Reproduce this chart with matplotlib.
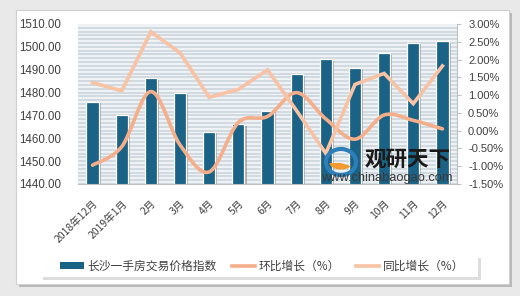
import numpy as np
import matplotlib
matplotlib.use("Agg")
import matplotlib.pyplot as plt
from matplotlib.path import Path
from matplotlib.patches import PathPatch, Rectangle, Patch, Ellipse, Wedge
from matplotlib.lines import Line2D
import matplotlib.patheffects as pe
from matplotlib.ticker import FormatStrFormatter, FuncFormatter

plt.rcParams['font.family'] = ['Noto Sans CJK SC', 'DejaVu Sans']

categories = ['2018年12月', '2019年1月', '2月', '3月', '4月', '5月', '6月',
              '7月', '8月', '9月', '10月', '11月', '12月']
price_index = [1476.0, 1470.1, 1486.4, 1480.0, 1462.9, 1466.3, 1472.1,
               1488.1, 1494.5, 1490.9, 1497.5, 1501.8, 1502.6]
mom_growth = [-0.97, -0.45, 1.10, -0.40, -1.16, 0.23, 0.40,
              1.07, 0.33, -0.24, 0.44, 0.29, 0.05]
yoy_growth = [1.35, 1.12, 2.78, 2.19, 0.94, 1.16, 1.71,
              0.56, -0.64, 1.30, 1.61, 0.76, 1.82]
legend_labels = ['长沙一手房交易价格指数', '环比增长（%）', '同比增长（%）']

BAR_C = '#1B6386'
MOM_C = '#F5AE8A'
YOY_C = '#F8C2A4'

fig = plt.figure(figsize=(5.2, 2.96), dpi=100)
fig.patch.set_facecolor('#E9E9E9')

# outer card with shadow
card = Rectangle((16 / 520, 1 - 284 / 296), (509 - 16) / 520, (284 - 10) / 296,
                 transform=fig.transFigure, facecolor='white', edgecolor='#D0D0D0',
                 lw=0.8, zorder=-2,
                 path_effects=[pe.SimplePatchShadow(offset=(2, -2), shadow_rgbFace='#9A9A9A', alpha=0.6),
                               pe.Normal()])
fig.patches.append(card)

# legend box
leg_box = Rectangle((40 / 520, 1 - 277 / 296), (478 - 40) / 520, 22 / 296, transform=fig.transFigure,
                    facecolor='white', edgecolor='none', zorder=-1,
                    path_effects=[pe.SimplePatchShadow(offset=(2, -2), shadow_rgbFace='#D5D5D5', alpha=0.8),
                                  pe.Normal()])
fig.patches.append(leg_box)

ax = fig.add_axes([78 / 520, 1 - 184 / 296, (457 - 78) / 520, (184 - 24) / 296])
ax.set_facecolor('#EEF2F5')
ax.set_zorder(1)

# striped background
for yy in np.arange(0.0, 1.0, 1 / 42):
    ax.plot([0, 1], [yy, yy], transform=ax.transAxes, color='#C9D3DB', lw=1.1, zorder=0.5)

x = np.arange(len(categories))
bars = ax.bar(x, price_index, width=0.42, color=BAR_C, edgecolor='white', lw=0.9, zorder=2)
for b in bars:
    b.set_path_effects([pe.SimplePatchShadow(offset=(1.5, -1.2), shadow_rgbFace='#7F7F7F', alpha=0.55), pe.Normal()])

ax.set_xlim(-0.5, len(categories) - 0.5)
ax.set_ylim(1440, 1510)
ax.set_yticks(np.arange(1440, 1511, 10))
ax.yaxis.set_major_formatter(FormatStrFormatter('%.2f'))
ax.tick_params(axis='y', length=0, labelsize=8.3, colors='#404040', pad=12)
ax.set_xticks(x)
ax.set_xticklabels(categories, rotation=45, ha='right', va='top', rotation_mode='anchor',
                   fontsize=7.5, color='#404040')
ax.tick_params(axis='x', length=0, pad=10)
for s in ['top', 'left', 'right']:
    ax.spines[s].set_visible(False)
ax.spines['bottom'].set_color('#BFBFBF')
for lab in ax.get_yticklabels():
    lab.set_family(['Liberation Sans', 'DejaVu Sans'])

ax2 = ax.twinx()
ax2.set_zorder(2)
ax2.patch.set_visible(False)
ax2.set_ylim(-1.5, 3.0)
ax2.set_yticks(np.arange(-1.5, 3.01, 0.5))
ax2.yaxis.set_major_formatter(FuncFormatter(lambda v, p: '%.2f%%' % v))
ax2.tick_params(axis='y', length=3, width=0.8, color='#BFBFBF', labelsize=8, labelcolor='#404040', pad=5)
for s in ['top', 'left', 'bottom']:
    ax2.spines[s].set_visible(False)
ax2.spines['right'].set_color('#BFBFBF')
for lab in ax2.get_yticklabels():
    lab.set_family(['Liberation Sans', 'DejaVu Sans'])

# smoothed MoM line (Catmull-Rom Bezier through the data points)
xs = x.astype(float)
ys = np.array(mom_growth, dtype=float)
verts = [(xs[0], ys[0])]
codes = [Path.MOVETO]
n = len(xs)
for i in range(n - 1):
    p0 = (xs[i - 1], ys[i - 1]) if i > 0 else (xs[i], ys[i])
    p1 = (xs[i], ys[i])
    p2 = (xs[i + 1], ys[i + 1])
    p3 = (xs[i + 2], ys[i + 2]) if i + 2 < n else (xs[i + 1], ys[i + 1])
    c1 = (p1[0] + (p2[0] - p0[0]) / 6, p1[1] + (p2[1] - p0[1]) / 6)
    c2 = (p2[0] - (p3[0] - p1[0]) / 6, p2[1] - (p3[1] - p1[1]) / 6)
    verts += [c1, c2, p2]
    codes += [Path.CURVE4] * 3
ax2.add_patch(PathPatch(Path(verts, codes), facecolor='none', edgecolor=MOM_C, lw=2.6,
                        capstyle='round', zorder=3))
ax2.plot(x, yoy_growth, color=YOY_C, lw=2.6, solid_joinstyle='miter', zorder=3)

# watermark
fig.text(365 / 520, 1 - 159 / 296, '观研天下', fontsize=15.5, fontweight='bold', color='#1A1A1A',
         ha='left', va='center', zorder=5)
fig.text(321 / 520, 1 - 178 / 296, 'www.chinabaogao.com', fontsize=9.3, color='#3A3A3A',
         family=['Liberation Sans', 'DejaVu Sans'], ha='left', va='center', zorder=5)
fig.patches.append(Ellipse((341 / 520, 1 - 162 / 296), 30 / 520, 26 / 296, transform=fig.transFigure,
                           facecolor='none', edgecolor='#2C7FB8', lw=3, zorder=5))
fig.patches.append(Wedge((341 / 520, 1 - 163 / 296), 0.022, 180, 330, transform=fig.transFigure,
                         facecolor='#F29A2E', edgecolor='none', zorder=5))

handles = [Patch(facecolor=BAR_C, edgecolor='none'),
           Line2D([0], [0], color=MOM_C, lw=2.6),
           Line2D([0], [0], color=YOY_C, lw=2.6)]
leg = fig.legend(handles, legend_labels, loc='center', bbox_to_anchor=(262 / 520, 1 - 266 / 296),
                 ncol=3, frameon=False, fontsize=8.5, handlelength=2.0, handleheight=0.55,
                 handletextpad=0.3, columnspacing=1.3, labelcolor='#404040')
leg.set_zorder(6)

fig.savefig('out.png', dpi=100, facecolor=fig.get_facecolor())
